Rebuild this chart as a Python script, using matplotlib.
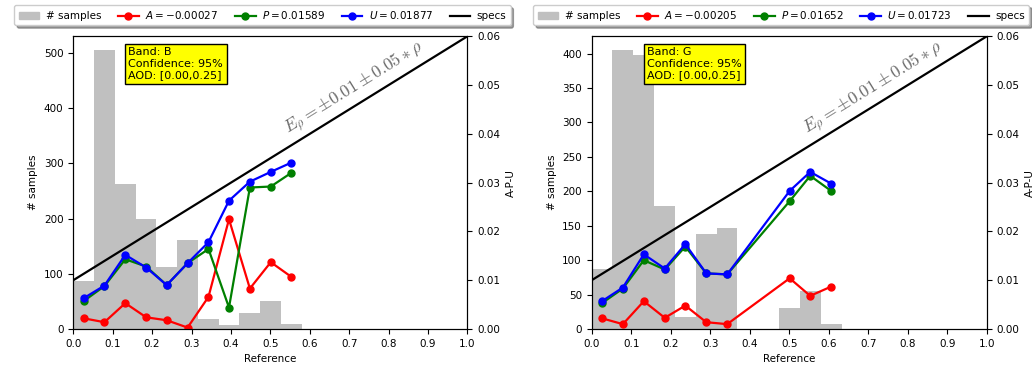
import numpy as np
import matplotlib
matplotlib.use('Agg')
import matplotlib.pyplot as plt
from matplotlib.patches import Patch
from matplotlib.lines import Line2D

plt.rcParams['font.size'] = 7.5

# histogram of reference values (bin width ~0.0527)
bin_width = 0.0527
counts_b = [87, 505, 263, 200, 113, 161, 18, 7, 29, 50, 10]
counts_g = [87, 405, 398, 178, 18, 138, 147, 0, 0, 30, 55, 8]

# A-P-U per bin (x = bin centers)
x_b = [0.026, 0.079, 0.132, 0.185, 0.237, 0.290, 0.343, 0.395, 0.448, 0.501, 0.553]
a_b = [0.0022, 0.0014, 0.0053, 0.0024, 0.0018, 0.0003, 0.0066, 0.0225, 0.0083, 0.0137, 0.0107]
p_b = [0.0057, 0.0088, 0.0143, 0.0128, 0.0090, 0.0135, 0.0164, 0.0044, 0.0290, 0.0292, 0.0320]
u_b = [0.0063, 0.0089, 0.0152, 0.0126, 0.0090, 0.0135, 0.0178, 0.0263, 0.0302, 0.0322, 0.0341]

x_g = [0.026, 0.079, 0.132, 0.185, 0.237, 0.290, 0.343, 0.501, 0.553, 0.606]
a_g = [0.0022, 0.0010, 0.0057, 0.0023, 0.0048, 0.0014, 0.0010, 0.0104, 0.0068, 0.0087]
p_g = [0.0053, 0.0083, 0.0141, 0.0122, 0.0169, 0.0114, 0.0112, 0.0262, 0.0314, 0.0283]
u_g = [0.0057, 0.0085, 0.0153, 0.0124, 0.0174, 0.0114, 0.0112, 0.0283, 0.0322, 0.0298]

stats_b = (-0.00027, 0.01589, 0.01877)
stats_g = (-0.00205, 0.01652, 0.01723)

spec_abs = 0.01
spec_rel = 0.05


def draw_panel(fig, rect, band, counts, x, a, p, u, stats):
    ax = fig.add_axes(rect)
    edges = np.arange(len(counts) + 1) * bin_width
    ax.bar(edges[:-1], counts, width=np.diff(edges), align='edge',
           color='silver', linewidth=0)
    ax.set_xlim(0, 1)
    ax.set_ylim(0, max(counts) * 1.05)
    ax.set_xticks(np.arange(0, 1.01, 0.1))
    ax.set_xlabel('Reference')
    ax.set_ylabel('# samples')

    ax2 = ax.twinx()
    ax2.set_ylim(0, 0.06)
    ax2.set_yticks(np.arange(0, 0.061, 0.01))
    ax2.yaxis.set_major_formatter(plt.FormatStrFormatter('%.2f'))
    ax2.set_ylabel('A-P-U')
    kw = dict(marker='o', markersize=5, linewidth=1.6)
    ax2.plot(x, a, color='red', **kw)
    ax2.plot(x, p, color='green', **kw)
    ax2.plot(x, u, color='blue', **kw)
    xs = np.array([0, 1])
    ax2.plot(xs, spec_abs + spec_rel * xs, color='black', linewidth=1.6)

    # label along the spec line
    fig.canvas.draw()
    p0 = ax2.transData.transform((0, spec_abs))
    p1 = ax2.transData.transform((1, spec_abs + spec_rel))
    ang = np.degrees(np.arctan2(p1[1] - p0[1], p1[0] - p0[0]))
    xt = 0.555
    ax2.text(xt, spec_abs + spec_rel * xt + 0.0010,
             r'$E_{\rho} = \pm 0.01 \pm 0.05 * \rho$',
             rotation=ang, rotation_mode='anchor', ha='left', va='bottom',
             fontsize=12.5, color='dimgray', math_fontfamily='cm')

    ax.text(0.14, 0.963, 'Band: %s\nConfidence: 95%%\nAOD: [0.00,0.25]' % band,
            transform=ax.transAxes, va='top', ha='left', fontsize=8,
            bbox=dict(boxstyle='square,pad=0.3', facecolor='yellow', edgecolor='black'))

    handles = [Patch(color='silver'),
               Line2D([], [], color='red', **kw),
               Line2D([], [], color='green', **kw),
               Line2D([], [], color='blue', **kw),
               Line2D([], [], color='black', linewidth=1.6)]
    labels = ['# samples',
              r'$A = %.5f$' % stats[0],
              r'$P = %.5f$' % stats[1],
              r'$U = %.5f$' % stats[2],
              'specs']
    ax2.legend(handles, labels, loc='center', bbox_to_anchor=(0.48, 1.072),
               ncol=5, shadow=True, fontsize=7.5, borderaxespad=0,
               columnspacing=1.6, handletextpad=0.6)
    return ax, ax2


fig = plt.figure(figsize=(10.32, 3.66), dpi=100)
draw_panel(fig, [0.071, 0.101, 0.382, 0.80], 'B', counts_b, x_b, a_b, p_b, u_b, stats_b)
draw_panel(fig, [0.5733, 0.101, 0.383, 0.80], 'G', counts_g, x_g, a_g, p_g, u_g, stats_g)
fig.savefig('out.png', dpi=100)
